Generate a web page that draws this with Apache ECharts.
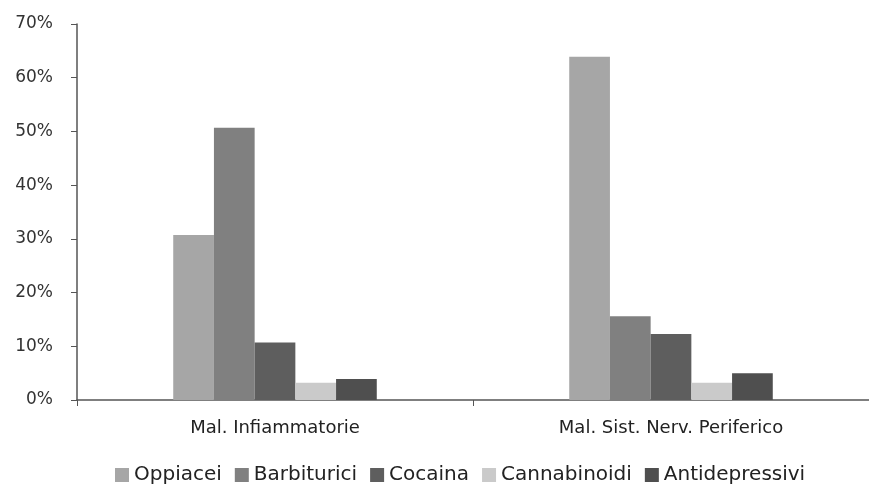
<!DOCTYPE html>
<html><head><meta charset="utf-8">
<script src="https://cdn.jsdelivr.net/npm/echarts@6/dist/echarts.min.js"></script>
<style>html,body{margin:0;padding:0;background:#fff}#c{width:869px;height:487px}</style>
</head><body><div id="c"></div>
<script>
const categories = ['Mal. Infiammatorie', 'Mal. Sist. Nerv. Periferico'];
const seriesNames = ['Oppiacei', 'Barbiturici', 'Cocaina', 'Cannabinoidi', 'Antidepressivi'];
const oppiacei = [30.7, 63.9];
const barbiturici = [50.7, 15.6];
const cocaina = [10.7, 12.3];
const cannabinoidi = [3.2, 3.2];
const antidepressivi = [3.9, 5.0];
const yTicks = [0, 10, 20, 30, 40, 50, 60, 70];
const colors = ['#a6a6a6', '#808080', '#5e5e5e', '#cacaca', '#4f4f4f'];
const values = [oppiacei, barbiturici, cocaina, cannabinoidi, antidepressivi];
const FONT = 'DejaVu Sans';

const chart = echarts.init(document.getElementById('c'), null, {renderer: 'canvas'});
chart.setOption({
  animation: false,
  color: colors,
  grid: {left: 77, right: 0, top: 24, bottom: 87, containLabel: false},
  legend: {
    top: 460, left: 110, itemWidth: 14, itemHeight: 14, itemGap: 13,
    icon: 'rect',
    textStyle: {fontFamily: FONT, fontSize: 20, color: '#222', padding: [0,0,0,0]},
    data: seriesNames
  },
  xAxis: {
    type: 'category', data: categories,
    axisLine: {lineStyle: {color: '#555', width: 1.5}},
    axisTick: {show: true, length: 6, lineStyle: {color: '#555'}},
    axisLabel: {fontFamily: FONT, fontSize: 18, color: '#222', margin: 19}
  },
  yAxis: {
    type: 'value', min: yTicks[0], max: yTicks[yTicks.length-1], interval: 10,
    axisLine: {show: true, lineStyle: {color: '#555', width: 1.5}},
    axisTick: {show: true, length: 6, lineStyle: {color: '#555'}},
    splitLine: {show: false},
    axisLabel: {fontFamily: FONT, fontSize: 17, color: '#333', margin: 24, formatter: '{value}%'}
  },
  series: seriesNames.map((n, i) => ({
    name: n, type: 'bar', data: values[i],
    barGap: '0%', barCategoryGap: '48.6%',
    itemStyle: {color: colors[i]}
  }))
});
</script></body></html>
